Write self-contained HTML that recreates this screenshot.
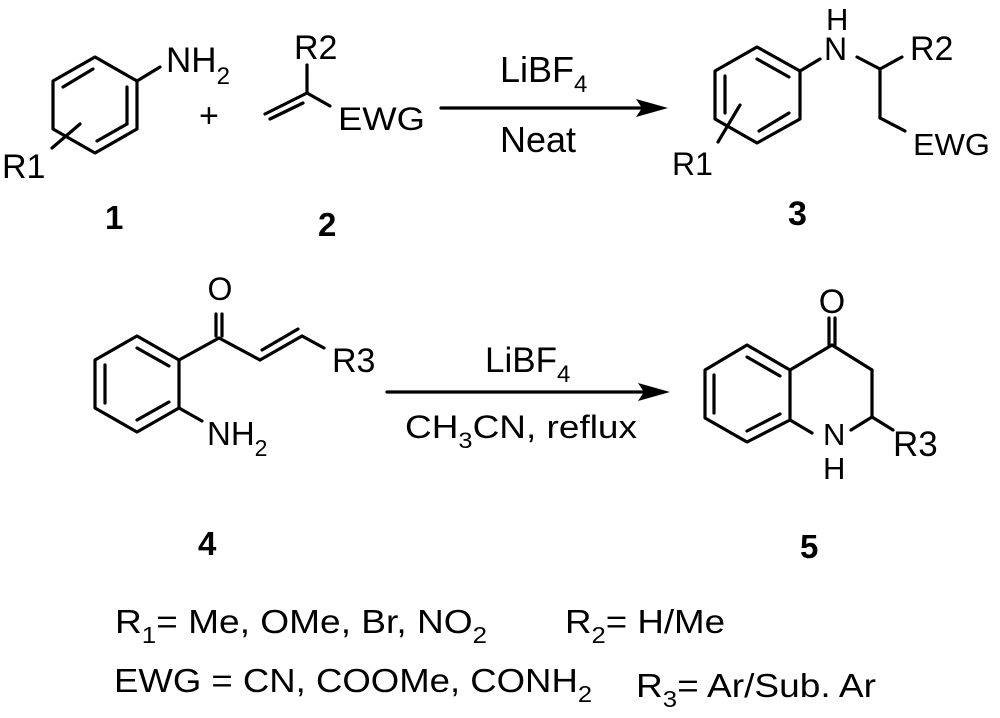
<!DOCTYPE html>
<html><head><meta charset="utf-8"><style>html,body{margin:0;padding:0;background:#fff}svg{display:block}</style></head><body>
<svg width="1000" height="718" viewBox="0 0 1000 718" xmlns="http://www.w3.org/2000/svg" font-family="Liberation Sans, Arial, sans-serif" fill="#000">
<g stroke="#000" stroke-width="3.2" fill="none" stroke-linecap="round" stroke-linejoin="round">
<polygon points="95,57 137,81 137,129 95,153 53,129 53,81"/>
<line x1="63" y1="87" x2="93" y2="69"/>
<line x1="127" y1="87" x2="127" y2="124"/>
<line x1="97" y1="141" x2="127" y2="124"/>
<line x1="137" y1="81" x2="160" y2="67"/>
<line x1="52" y1="148" x2="80" y2="124"/>
<line x1="307" y1="93" x2="307" y2="65"/>
<line x1="307" y1="93" x2="330" y2="106"/>
<line x1="307" y1="93" x2="265" y2="114"/>
<line x1="303" y1="103" x2="270" y2="119"/>
<line x1="441" y1="108" x2="650" y2="108"/>
<polygon points="757,47 800,71 800,119 757,143 715,119 715,71"/>
<line x1="757" y1="59" x2="789" y2="77"/>
<line x1="725" y1="76" x2="725" y2="113"/>
<line x1="759" y1="131" x2="789" y2="113"/>
<line x1="800" y1="71" x2="820" y2="59"/>
<line x1="857" y1="57" x2="880" y2="69"/>
<line x1="880" y1="69" x2="902" y2="57"/>
<line x1="880" y1="69" x2="880" y2="118"/>
<line x1="880" y1="118" x2="905" y2="131"/>
<line x1="718" y1="142" x2="740" y2="105"/>
<polygon points="137,336 179,360 179,408 137,432 95,408 95,360"/>
<line x1="105" y1="365" x2="105" y2="403"/>
<line x1="137" y1="348" x2="169" y2="366"/>
<line x1="169" y1="402" x2="137" y2="420"/>
<line x1="179" y1="360" x2="219" y2="338"/>
<line x1="216" y1="336" x2="216" y2="314"/>
<line x1="222" y1="336" x2="222" y2="314"/>
<line x1="219" y1="338" x2="260" y2="360"/>
<line x1="260" y1="360" x2="302" y2="336"/>
<line x1="262" y1="350" x2="298" y2="329"/>
<line x1="302" y1="336" x2="324" y2="348"/>
<line x1="179" y1="408" x2="202" y2="421"/>
<line x1="387" y1="392" x2="652" y2="392"/>
<polygon points="747,345 790,370 790,420 747,442 705,418 705,370"/>
<line x1="714" y1="375" x2="714" y2="413"/>
<line x1="747" y1="357" x2="780" y2="376"/>
<line x1="780" y1="414" x2="747" y2="431"/>
<line x1="790" y1="370" x2="832" y2="345"/>
<line x1="829" y1="345" x2="829" y2="318"/>
<line x1="835" y1="345" x2="835" y2="318"/>
<line x1="832" y1="345" x2="872" y2="370"/>
<line x1="872" y1="370" x2="872" y2="417"/>
<line x1="872" y1="417" x2="893" y2="430"/>
<line x1="790" y1="420" x2="812" y2="433"/>
<line x1="872" y1="417" x2="851" y2="430"/>
</g>
<polygon points="668,108 636,99 642,108 636,117"/>
<polygon points="670,392 638,383 644,392 638,401"/>
<text x="166" y="72" font-size="35">NH<tspan font-size="24" dy="12">2</tspan></text>
<text x="2" y="178" font-size="34">R1</text>
<text x="199" y="127" font-size="34">+</text>
<text x="294" y="59" font-size="34">R2</text>
<text x="338" y="130" font-size="32" textLength="87" lengthAdjust="spacingAndGlyphs">EWG</text>
<text x="500" y="82" font-size="36">LiBF<tspan font-size="24" dy="10">4</tspan></text>
<text x="500" y="152" font-size="36" textLength="76" lengthAdjust="spacingAndGlyphs">Neat</text>
<text x="826" y="30" font-size="31">H</text>
<text x="824" y="60" font-size="32">N</text>
<text x="910" y="60" font-size="34">R2</text>
<text x="913" y="155" font-size="31" textLength="77" lengthAdjust="spacingAndGlyphs">EWG</text>
<text x="672" y="175" font-size="32">R1</text>
<text x="220" y="300" font-size="32" text-anchor="middle">O</text>
<text x="332" y="372" font-size="34">R3</text>
<text x="207" y="445" font-size="33">NH<tspan font-size="23" dy="11">2</tspan></text>
<text x="485" y="372" font-size="35">LiBF<tspan font-size="24" dy="10">4</tspan></text>
<text x="405" y="438" font-size="32" textLength="232" lengthAdjust="spacingAndGlyphs">CH<tspan font-size="22" dy="10">3</tspan><tspan dy="-10">CN,  reflux</tspan></text>
<text x="832" y="313" font-size="34" text-anchor="middle">O</text>
<text x="823" y="445" font-size="31">N</text>
<text x="823" y="479" font-size="31">H</text>
<text x="893" y="456" font-size="35">R3</text>
<g font-weight="bold">
<text x="105" y="229" font-size="33">1</text>
<text x="318" y="236" font-size="33">2</text>
<text x="788" y="225" font-size="34">3</text>
<text x="198" y="555" font-size="33">4</text>
<text x="800" y="558" font-size="33">5</text>
</g>
<g font-size="33">
<text x="115" y="633" textLength="372" lengthAdjust="spacingAndGlyphs">R<tspan font-size="23" dy="10">1</tspan><tspan dy="-10">= Me, OMe, Br, NO</tspan><tspan font-size="23" dy="10">2</tspan></text>
<text x="565" y="633" textLength="160" lengthAdjust="spacingAndGlyphs">R<tspan font-size="23" dy="10">2</tspan><tspan dy="-10">= H/Me</tspan></text>
<text x="114" y="692" textLength="478" lengthAdjust="spacingAndGlyphs">EWG = CN, COOMe, CONH<tspan font-size="23" dy="10">2</tspan></text>
<text x="636" y="697" textLength="240" lengthAdjust="spacingAndGlyphs">R<tspan font-size="23" dy="10">3</tspan><tspan dy="-10">= Ar/Sub. Ar</tspan></text>
</g>
</svg>
</body></html>
